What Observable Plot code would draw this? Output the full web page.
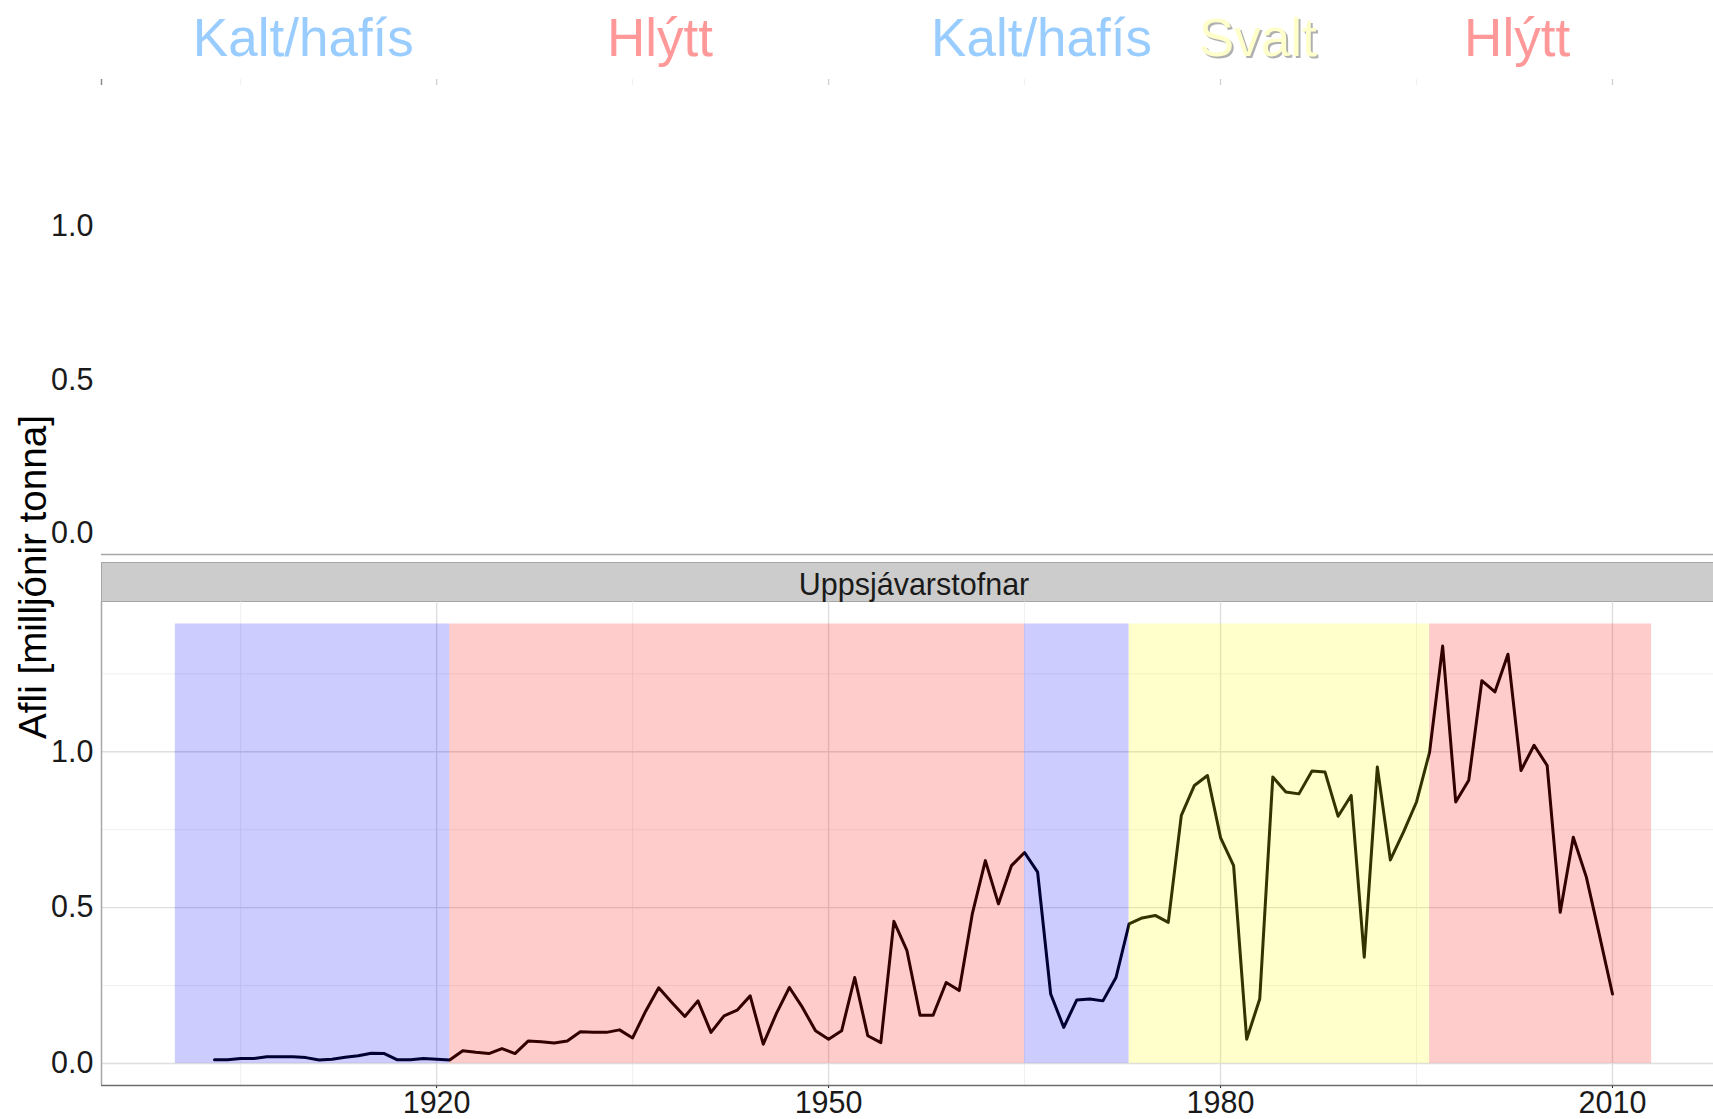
<!DOCTYPE html>
<html>
<head>
<meta charset="utf-8">
<script src="https://cdn.jsdelivr.net/npm/d3@7"></script>
<script src="https://cdn.jsdelivr.net/npm/@observablehq/plot@0.6"></script>
<style>
  body { margin: 0; background: #fff; }
  #wrap { position: relative; width: 1713px; height: 1119px; overflow: hidden; background: #fff;
          font-family: "Liberation Sans", Arial, sans-serif; }
  #topPanel, #bottomPanel { position: absolute; left: 0; }
  #topPanel { top: 0; }
  #bottomPanel { top: 560px; }
  #strip { position: absolute; left: 101px; top: 562px; width: 1640px; height: 40px; box-sizing: border-box;
           background: #CCCCCC; border: 1.5px solid #A6A6A6; border-right: none;
           font-size: 30.5px; color: #1a1a1a; line-height: 43px; }
  #strip span { position: absolute; left: 0; width: 1624px; text-align: center; }
  #ytitle { position: absolute; left: -267px; top: 557px; width: 600px; height: 40px; line-height: 40px;
            text-align: center; font-size: 38.6px; color: #000; transform: rotate(-90deg); transform-origin: 50% 50%; }
</style>
</head>
<body>
<div id="wrap">
  <div id="topPanel"></div>
  <div id="strip"><span>Uppsjávarstofnar</span></div>
  <div id="bottomPanel"></div>
  <div id="ytitle">Afli [milljónir tonna]</div>
</div>
<script>
// ---------- data ----------
const firstYear = 1903;
const catch_mt = [
  0.012, 0.012, 0.016, 0.016, 0.022, 0.022, 0.022, 0.019, 0.011, 0.014, // 1903-1912
  0.020, 0.025, 0.033, 0.032, 0.012, 0.012, 0.016, 0.014, 0.011, 0.041, // 1913-1922
  0.036, 0.032, 0.048, 0.032, 0.072, 0.070, 0.066, 0.072, 0.102, 0.100, // 1923-1932
  0.100, 0.108, 0.082, 0.168, 0.243, 0.196, 0.151, 0.201, 0.100, 0.153, // 1933-1942
  0.171, 0.217, 0.062, 0.160, 0.244, 0.180, 0.105, 0.078, 0.105, 0.276, // 1943-1952
  0.089, 0.067, 0.456, 0.362, 0.155, 0.155, 0.260, 0.234, 0.480, 0.651, // 1953-1962
  0.512, 0.635, 0.677, 0.614, 0.223, 0.116, 0.204, 0.207, 0.201, 0.276, // 1963-1972
  0.448, 0.467, 0.475, 0.453, 0.796, 0.892, 0.924, 0.725, 0.635, 0.078, // 1973-1982
  0.207, 0.919, 0.871, 0.865, 0.938, 0.935, 0.793, 0.860, 0.341, 0.951, // 1983-1992
  0.653, 0.742, 0.839, 0.999, 1.339, 0.839, 0.909, 1.228, 1.192, 1.313, // 1993-2002
  0.940, 1.021, 0.956, 0.485, 0.726, 0.598, 0.412, 0.223                // 2003-2010
];
const periodStart = [1900, 1921, 1965, 1973, 1996];
const periodEnd   = [1921, 1965, 1973, 1996, 2013];
const periodType  = ["kalt", "hlytt", "kalt", "svalt", "hlytt"];
const bandTop = 1.41;

const labelText = ["Kalt/hafís", "Hlýtt", "Kalt/hafís", "Svalt", "Hlýtt"];
const labelYear = [1909.8, 1937.1, 1966.3, 1982.85, 2002.7];
const labelType = ["kalt", "hlytt", "kalt", "svalt", "hlytt"];

const xMajor = [1920, 1950, 1980, 2010];
const xMinor = [1905, 1935, 1965, 1995];
const yMajor = [0, 0.5, 1.0];
const yMinor = [0.25, 0.75, 1.25];

// ---------- tables ----------
const series = catch_mt.map((v, i) => ({year: firstYear + i, value: v}));
const periods = periodStart.map((s, i) => ({start: s, end: periodEnd[i], type: periodType[i]}));
const labels = labelText.map((t, i) => ({text: t, year: labelYear[i], type: labelType[i]}));

const bandFill = {kalt: "#0000FF", hlytt: "#FF0000", svalt: "#FFFF00"};
const labelFill = {kalt: "#99CCFF", hlytt: "#FF9999", svalt: "#FFFFCC"};

const xDomain = [1894.35, 2018.65];
const yDomain = [-0.0705, 1.4805];
const font = '"Liberation Sans", Arial, sans-serif';
const baseStyle = {fontFamily: font, fontSize: "30.5px", color: "#1a1a1a", background: "transparent", maxWidth: "none", overflow: "visible"};

// ---------- top (empty) panel ----------
const topPlot = Plot.plot({
  width: 1725, height: 600,
  marginLeft: 101, marginRight: 0, marginTop: 79, marginBottom: 46,
  style: baseStyle,
  x: {domain: xDomain, axis: null},
  y: {domain: yDomain, ticks: yMajor, tickFormat: d3.format(".1f"), tickSize: 0, tickPadding: 8, label: null},
  marks: [
    Plot.ruleX(xMinor, {y1: yDomain[1], y2: 1.461, stroke: "#EFEFEF", strokeWidth: 1}),
    Plot.ruleX(xMajor, {y1: yDomain[1], y2: 1.461, stroke: "#CFCFCF", strokeWidth: 1.3}),
    Plot.ruleX([xDomain[0]], {y1: yDomain[1], y2: 1.461, stroke: "#8C8C8C", strokeWidth: 1.5}),
    Plot.ruleY([yDomain[0]], {stroke: "#A6A6A6", strokeWidth: 1.3}),
    Plot.text(labels.filter(d => d.type === "svalt"), {x: "year", text: "text", frameAnchor: "top", lineAnchor: "bottom",
      dy: -22, dx: 2, fill: "#B0B0B0", fontSize: 53, fontFamily: font}),
    ...Object.keys(labelFill).map(k =>
      Plot.text(labels.filter(d => d.type === k), {x: "year", text: "text", frameAnchor: "top", lineAnchor: "bottom",
        dy: -24, fill: labelFill[k], fontSize: 53, fontFamily: font}))
  ]
});
document.getElementById("topPanel").appendChild(topPlot);

// ---------- bottom panel ----------
const bottomPlot = Plot.plot({
  width: 1725, height: 559,
  marginLeft: 101, marginRight: 0, marginTop: 41.5, marginBottom: 34,
  style: baseStyle,
  x: {domain: xDomain, ticks: xMajor, tickFormat: d => String(d), tickSize: 3, tickPadding: 3, label: null},
  y: {domain: yDomain, ticks: yMajor, tickFormat: d3.format(".1f"), tickSize: 0, tickPadding: 8, label: null},
  marks: [
    Plot.ruleY(yMinor, {stroke: "#EDEDED", strokeWidth: 0.9}),
    Plot.ruleX(xMinor, {stroke: "#EDEDED", strokeWidth: 0.9}),
    Plot.ruleY(yMajor, {stroke: "#DEDEDE", strokeWidth: 1.4}),
    Plot.ruleX(xMajor, {stroke: "#DEDEDE", strokeWidth: 1.4}),
    Plot.line(series, {x: "year", y: "value", stroke: "#000", strokeWidth: 3}),
    ...Object.keys(bandFill).map(k =>
      Plot.rect(periods.filter(d => d.type === k), {x1: "start", x2: "end", y1: () => 0, y2: () => bandTop,
        fill: bandFill[k], fillOpacity: 0.2})),
    Plot.ruleX([xDomain[0]], {stroke: "#A6A6A6", strokeWidth: 1.5}),
    Plot.ruleY([yDomain[0]], {stroke: "#6E6E6E", strokeWidth: 1.5})
  ]
});
document.getElementById("bottomPanel").appendChild(bottomPlot);
</script>
</body>
</html>
